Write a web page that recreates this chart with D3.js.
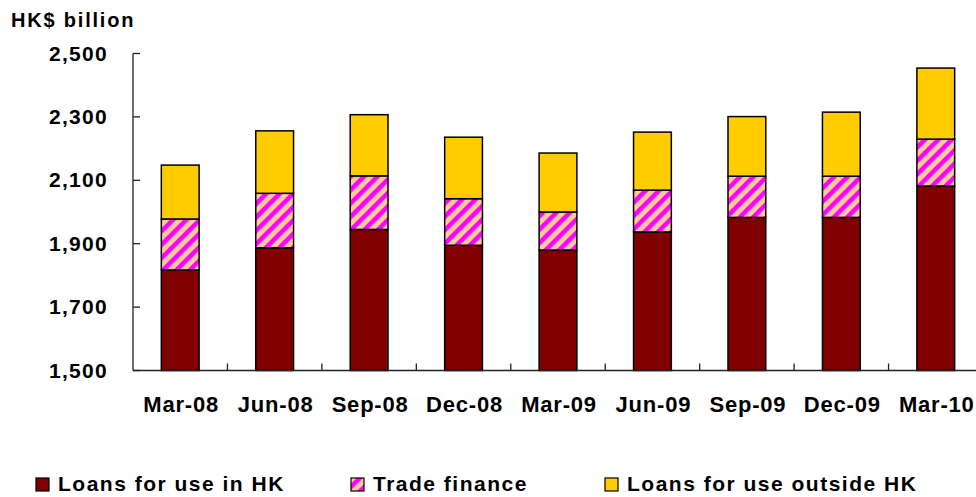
<!DOCTYPE html>
<html>
<head>
<meta charset="utf-8">
<script src="https://cdn.jsdelivr.net/npm/d3@7"></script>
<style>
  body { margin: 0; background: #fff; }
  text { font-family: Arial, "Liberation Sans", sans-serif; font-weight: bold; fill: #000; }
</style>
</head>
<body>
<div id="chart"></div>
<script>
// data (HK$ billion)
const quarters = ["Mar-08", "Jun-08", "Sep-08", "Dec-08", "Mar-09", "Jun-09", "Sep-09", "Dec-09", "Mar-10"];
const loansHK = [1817, 1887, 1945, 1895, 1880, 1937, 1983, 1983, 2082];
const tradeFinance = [161, 172, 169, 147, 120, 132, 130, 130, 148];
const loansOutside = [170, 197, 193, 194, 186, 183, 188, 202, 224];
const yTicks = [1500, 1700, 1900, 2100, 2300, 2500];
const seriesNames = ["Loans for use in HK", "Trade finance", "Loans for use outside HK"];

const W = 976, H = 497;
const svg = d3.select("#chart").append("svg")
    .attr("width", W).attr("height", H);

// hatch for trade finance
const defs = svg.append("defs");
const pat = defs.append("pattern")
    .attr("id", "hatch")
    .attr("patternUnits", "userSpaceOnUse")
    .attr("width", 9.5).attr("height", 9.5)
    .attr("patternTransform", "rotate(45)");
pat.append("rect").attr("width", 9.5).attr("height", 9.5).attr("fill", "#FFCC99");
pat.append("rect").attr("width", 4.5).attr("height", 9.5).attr("fill", "#FF00FF");

const colors = ["#800000", "url(#hatch)", "#FFCC00"];

// scales
const x = d3.scaleBand()
    .domain(quarters)
    .range([133, 983])
    .paddingInner(0.6)
    .paddingOuter(0.3);

const y = d3.scaleLinear()
    .domain([1500, 2500])
    .range([370.5, 53.5])
    .clamp(true);

// stack
const rows = quarters.map((q, i) => ({ q, a: loansHK[i], b: tradeFinance[i], c: loansOutside[i] }));
const stacked = d3.stack().keys(["a", "b", "c"])(rows);

svg.append("g").selectAll("g")
    .data(stacked)
    .join("g")
    .attr("fill", (d, i) => colors[i])
    .selectAll("rect")
    .data(d => d)
    .join("rect")
    .attr("x", d => x(d.data.q))
    .attr("width", x.bandwidth())
    .attr("y", d => y(d[1]))
    .attr("height", d => y(d[0]) - y(d[1]))
    .attr("stroke", "#000")
    .attr("stroke-width", 1.5);

// y axis
const axisCol = "#222";
svg.append("line")
    .attr("x1", 133).attr("x2", 133)
    .attr("y1", y(2500)).attr("y2", y(1500))
    .attr("stroke", axisCol).attr("stroke-width", 1.3);

svg.append("g").selectAll("line")
    .data(yTicks)
    .join("line")
    .attr("x1", 133).attr("x2", 140)
    .attr("y1", d => y(d)).attr("y2", d => y(d))
    .attr("stroke", axisCol).attr("stroke-width", 1.3);

svg.append("g").selectAll("text")
    .data(yTicks)
    .join("text")
    .attr("x", 108)
    .attr("y", d => y(d) + 7)
    .attr("text-anchor", "end")
    .style("font-size", "21px")
    .style("letter-spacing", "1.3px")
    .text(d => d3.format(",")(d));

// x axis
svg.append("line")
    .attr("x1", 133).attr("x2", W)
    .attr("y1", y(1500)).attr("y2", y(1500))
    .attr("stroke", axisCol).attr("stroke-width", 1.3);

const step = x.step();
svg.append("g").selectAll("line")
    .data(quarters.slice(1))
    .join("line")
    .attr("x1", d => x(d) - step * 0.3)
    .attr("x2", d => x(d) - step * 0.3)
    .attr("y1", y(1500)).attr("y2", y(1500) - 7)
    .attr("stroke", axisCol).attr("stroke-width", 1.3);

svg.append("g").selectAll("text")
    .data(quarters)
    .join("text")
    .attr("x", d => x(d) + x.bandwidth() / 2 + 1)
    .attr("y", 411.5)
    .attr("text-anchor", "middle")
    .style("font-size", "22px")
    .style("letter-spacing", "0.8px")
    .text(d => d);

// unit label
svg.append("text")
    .attr("x", 11)
    .attr("y", 26.5)
    .style("font-size", "20px")
    .style("letter-spacing", "1.8px")
    .text("HK$ billion");

// legend
const legendX = [36, 351, 605];
const legend = svg.append("g").selectAll("g")
    .data(seriesNames)
    .join("g")
    .attr("transform", (d, i) => `translate(${legendX[i]},0)`);

legend.append("rect")
    .attr("x", 0).attr("y", 478)
    .attr("width", 13).attr("height", 13)
    .attr("fill", (d, i) => colors[i])
    .attr("stroke", "#000").attr("stroke-width", 1.2);

legend.append("text")
    .attr("x", 22)
    .attr("y", 491)
    .style("font-size", "21px")
    .style("letter-spacing", "1.5px")
    .text(d => d);
</script>
</body>
</html>
